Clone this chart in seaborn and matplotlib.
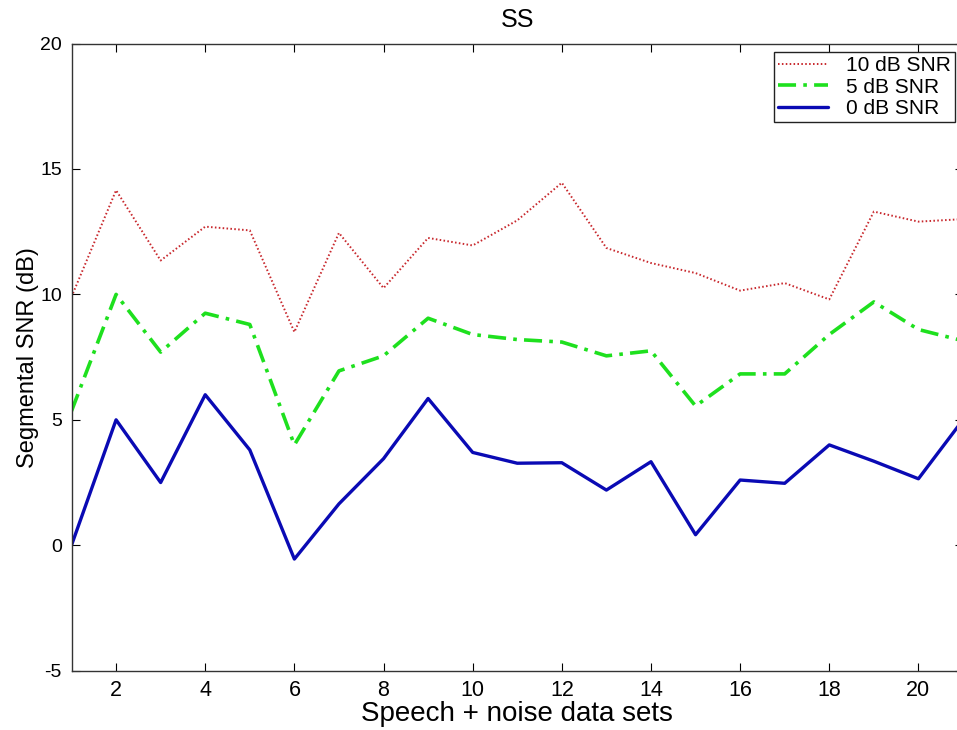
#!/usr/bin/env python3
"""Segmental SNR per speech + noise data set for spectral subtraction (SS)."""

import matplotlib
matplotlib.use("Agg")
import matplotlib.pyplot as plt
import pandas as pd
import seaborn as sns

DATA_SETS = list(range(1, 22))
SNR_10DB = [9.9, 14.15, 11.35, 12.7, 12.55, 8.5, 12.45, 10.25, 12.25, 11.95, 12.95,
            14.45, 11.85, 11.25, 10.85, 10.15, 10.45, 9.8, 13.3, 12.9, 13.0]
SNR_5DB = [5.35, 10.0, 7.7, 9.25, 8.8, 4.0, 6.95, 7.55, 9.05, 8.4, 8.2,
           8.1, 7.55, 7.75, 5.55, 6.83, 6.83, 8.4, 9.7, 8.6, 8.15]
SNR_0DB = [0.0, 5.0, 2.5, 6.0, 3.8, -0.55, 1.65, 3.45, 5.85, 3.7, 3.27,
           3.29, 2.2, 3.33, 0.42, 2.6, 2.47, 4.0, 3.35, 2.65, 5.0]
LABELS = ["10 dB SNR", "5 dB SNR", "0 dB SNR"]

COLORS = {"10 dB SNR": "#c8282d", "5 dB SNR": "#1ee01e", "0 dB SNR": "#0a0ab4"}
DASHES = {"10 dB SNR": (0.8, 1.2), "5 dB SNR": (5, 2, 1, 2), "0 dB SNR": ""}
WIDTHS = {"10 dB SNR": 1.4, "5 dB SNR": 2.6, "0 dB SNR": 2.4}


def build_frame() -> pd.DataFrame:
    frames = []
    for label, values in zip(LABELS, (SNR_10DB, SNR_5DB, SNR_0DB)):
        frames.append(pd.DataFrame({"set": DATA_SETS, "snr": values, "series": label}))
    return pd.concat(frames, ignore_index=True)


def main() -> None:
    df = build_frame()

    sns.set_style("white")
    plt.rcParams["font.family"] = ["Liberation Sans", "DejaVu Sans"]
    plt.rcParams["axes.unicode_minus"] = False
    plt.rcParams["text.color"] = "black"
    plt.rcParams["axes.labelcolor"] = "black"

    fig = plt.figure(figsize=(9.57, 7.30), dpi=100)
    ax = fig.add_axes([71.5 / 957, 1 - 670.7 / 730, (963 - 71.5) / 957, (670.7 - 43.5) / 730])

    for label in LABELS:
        sub = df[df["series"] == label]
        sns.lineplot(data=sub, x="set", y="snr", ax=ax, color=COLORS[label],
                     linewidth=WIDTHS[label], label=label, legend=False)
        line = ax.lines[-1]
        if DASHES[label]:
            line.set_dashes(DASHES[label])

    ax.set_xlim(1, 21)
    ax.set_ylim(-5, 20)
    ax.set_xticks(range(2, 21, 2))
    ax.set_yticks(range(-5, 21, 5))
    ax.tick_params(direction="in", length=6, width=0.8, colors="black",
                   top=True, right=True, bottom=True, left=True)
    ax.tick_params(axis="x", labelsize=15.5, pad=7)
    ax.tick_params(axis="y", labelsize=14, pad=7)
    for spine in ax.spines.values():
        spine.set_color("#333333")
        spine.set_linewidth(1.0)

    ax.set_title("SS", fontsize=18, pad=12)
    ax.set_xlabel("Speech + noise data sets", fontsize=20, labelpad=0)
    ax.set_ylabel("Segmental SNR (dB)", fontsize=17, labelpad=1)

    leg = ax.legend(loc="upper right", bbox_to_anchor=(954.5 / 963, 0.9865), fontsize=15,
                    frameon=True, fancybox=False, handlelength=2.4, handletextpad=0.85,
                    borderpad=0.2, labelspacing=0.12, borderaxespad=0.0)
    leg.get_frame().set_edgecolor("#222222")
    leg.get_frame().set_linewidth(1.0)
    leg.get_frame().set_alpha(1.0)

    fig.savefig("out.png", dpi=100)
    plt.close(fig)


if __name__ == "__main__":
    main()
